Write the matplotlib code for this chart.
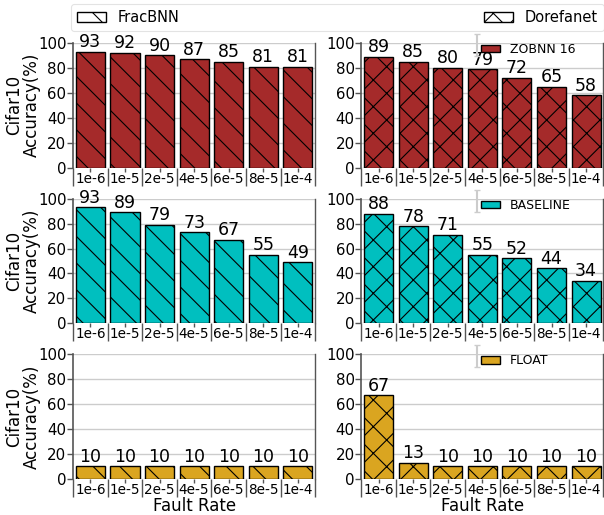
import numpy as np
import matplotlib
matplotlib.use("Agg")
import matplotlib.pyplot as plt
from matplotlib.patches import Patch

# Data
fault_rates = ["1e-6", "1e-5", "2e-5", "4e-5", "6e-5", "8e-5", "1e-4"]
models = ["FracBNN", "Dorefanet"]
model_hatch = ["\\", "x"]
variants = ["ZOBNN 16", "BASELINE", "FLOAT"]
variant_colors = ["#A52A2A", "#00BFBF", "#DAA520"]

zobnn_frac = [93, 92, 90, 87, 85, 81, 81]
zobnn_dore = [89, 85, 80, 79, 72, 65, 58]
base_frac = [93, 89, 79, 73, 67, 55, 49]
base_dore = [88, 78, 71, 55, 52, 44, 34]
float_frac = [10, 10, 10, 10, 10, 10, 10]
float_dore = [67, 13, 10, 10, 10, 10, 10]

values = [[zobnn_frac, zobnn_dore],
          [base_frac, base_dore],
          [float_frac, float_dore]]

# render at lower dpi so the hatch comes out denser; S rescales sizes
DPI = 80
S = 100 / DPI

fig, axes = plt.subplots(3, 2, figsize=(604 / DPI, 515 / DPI), dpi=DPI)
fig.subplots_adjust(left=0.121, right=0.999, top=0.9165, bottom=0.070,
                    wspace=0.19, hspace=0.25)

x = np.arange(len(fault_rates))
spine_col = "#555555"

for r in range(3):
    for c in range(2):
        ax = axes[r, c]
        bars = ax.bar(x, values[r][c], width=0.84, color=variant_colors[r],
                      edgecolor="black", linewidth=1.0 * S, hatch=model_hatch[c],
                      zorder=3)
        ax.bar_label(bars, padding=0.5, fontsize=12.5 * S)
        ax.set_xlim(-0.5, len(x) - 0.5)
        ax.set_ylim(0, 100)
        ax.set_yticks(range(0, 101, 20))
        ax.tick_params(axis="y", labelsize=10.8 * S, length=4 * S,
                       width=S, color=spine_col, pad=1)
        ax.set_xticks(x)
        ax.set_xticklabels(fault_rates, fontsize=9.8 * S)
        ax.set_xticks(np.arange(-0.5, len(x), 1.0), minor=True)
        ax.tick_params(axis="x", which="major", length=3 * S, width=S,
                       pad=0, color=spine_col)
        ax.tick_params(axis="x", which="minor", length=13 * S, width=S,
                       color=spine_col)
        ax.grid(axis="y", color="#cccccc", linewidth=1.0 * S, zorder=0)
        ax.spines["top"].set_visible(False)
        ax.spines["bottom"].set_visible(False)
        ax.spines["left"].set_color(spine_col)
        ax.spines["right"].set_color(spine_col)
        ax.spines["left"].set_linewidth(1.2 * S)
        ax.spines["right"].set_linewidth(1.0 * S)
        if c == 0:
            ax.set_ylabel("Cifar10\nAccuracy(%)", fontsize=12 * S,
                          labelpad=-3, linespacing=1.0)
        if r == 2:
            ax.set_xlabel("Fault Rate", fontsize=12 * S, labelpad=-3)
        if c == 1:
            ax.legend(handles=[Patch(facecolor=variant_colors[r],
                                     edgecolor="black", linewidth=S,
                                     label=variants[r])],
                      loc="upper left", bbox_to_anchor=(0.45, 1.09),
                      frameon=False, fontsize=9 * S, handlelength=1.5,
                      handleheight=0.55, handletextpad=0.8)
            # grey error-bar marker beside the legend
            ax.errorbar([0.478], [0.984], yerr=[[0.088], [0.088]],
                        transform=ax.transAxes, color="#cccccc",
                        capsize=2.5 * S, elinewidth=1.5 * S, capthick=S,
                        fmt="none", clip_on=False, zorder=5)

handles = [Patch(facecolor="white", edgecolor="black", hatch=h, linewidth=S,
                 label=m)
           for m, h in zip(models, model_hatch)]
fig.legend(handles=handles, loc="lower left", ncol=2, mode="expand",
           bbox_to_anchor=(71 / 604, 1 - 31 / 515, 533 / 604, 28 / 515),
           fontsize=10.5 * S, frameon=True, edgecolor="#dddddd",
           handlelength=2.0, handleheight=0.7, borderaxespad=0)

fig.savefig("out.png", dpi=DPI)
